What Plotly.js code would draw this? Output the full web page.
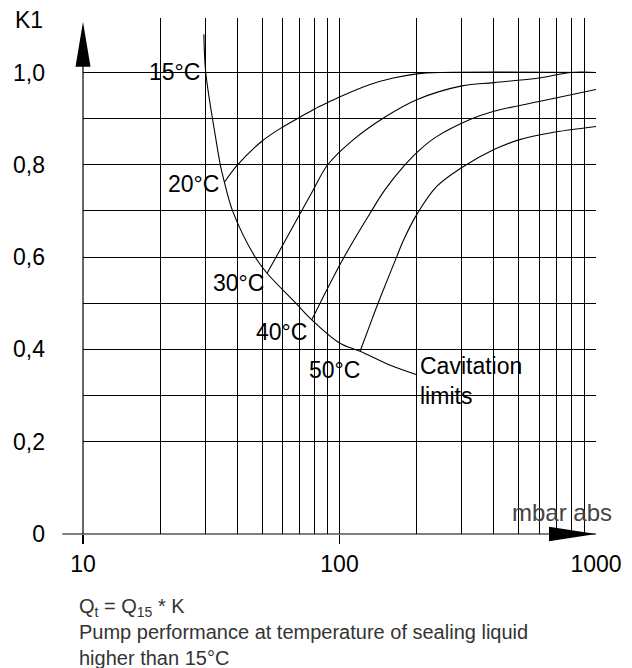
<!DOCTYPE html>
<html><head><meta charset="utf-8">
<script src="https://cdn.plot.ly/plotly-3.0.1.min.js"></script>
<style>html,body{margin:0;padding:0;background:#fff}#chart{width:632px;height:668px}</style>
</head><body><div id="chart"></div>
<script>
// ---- data ----
const xTickVals = [10,20,30,40,50,60,70,80,90,100,200,300,400,500,600,700,800,900,1000];
const xTickText = ['10','','','','','','','','','100','','','','','','','','','1000'];
const yTickVals = [0,0.2,0.4,0.6,0.8,1.0];
const yTickText = ['0','0,2','0,4','0,6','0,8','1,0'];
const yMinorGrid = [0.3,0.5,0.7,0.9];

const cavX = [29.6, 30.1, 33.0, 34.3, 35.6, 38.3, 46.9, 52.2, 67.6, 78.0, 100, 120.3, 157, 200];
const cavY = [1.083, 1.0, 0.854, 0.80, 0.762, 0.70, 0.60, 0.565, 0.50, 0.464, 0.414, 0.396, 0.366, 0.345];

const t20X = [35.6, 39.8, 49.8, 60.5, 70, 80, 90, 100, 131.6, 162, 200, 247, 1000];
const t20Y = [0.762, 0.798, 0.851, 0.883, 0.903, 0.921, 0.935, 0.947, 0.974, 0.988, 0.997, 1.0, 1.0];

const t30X = [52.2, 56.6, 71.3, 79.1, 90, 113, 150, 200, 300, 400, 600, 800, 1000];
const t30Y = [0.565, 0.600, 0.701, 0.746, 0.800, 0.854, 0.903, 0.941, 0.971, 0.978, 0.988, 1.0, 1.0];

const t40X = [78.0, 84.0, 104.2, 131.6, 150.5, 177.4, 206, 239.3, 322.8, 400, 600, 1000];
const t40Y = [0.464, 0.500, 0.600, 0.695, 0.746, 0.796, 0.833, 0.861, 0.898, 0.916, 0.937, 0.963];

const t50X = [120.3, 133.6, 143, 167.2, 177.4, 200, 239.3, 300, 400, 500, 661, 1000];
const t50Y = [0.396, 0.464, 0.507, 0.601, 0.636, 0.692, 0.753, 0.794, 0.833, 0.854, 0.869, 0.883];

const tempLabels = ['15°C','20°C','30°C','40°C','50°C'];
const tempLabelX = [29.2, 34.5, 51.8, 76.3, 122.2];
const tempLabelY = [1.0, 0.759, 0.544, 0.438, 0.356];

// ---- chart ----
const FONT = 'Liberation Sans, Arial, Helvetica, sans-serif';
const lineStyle = {color:'#000', width:1.1, shape:'spline', smoothing:1};
const mk = (x,y,name) => ({x, y, name, type:'scatter', mode:'lines', line:lineStyle, hoverinfo:'skip'});
const traces = [mk(cavX,cavY,'Cavitation limits'), mk(t20X,t20Y,'20°C'), mk(t30X,t30Y,'30°C'), mk(t40X,t40Y,'40°C'), mk(t50X,t50Y,'50°C')];

const annotations = tempLabels.map((t,i)=>({
  text:t, xref:'x', yref:'y', x:Math.log10(tempLabelX[i]), y:tempLabelY[i],
  xanchor:'right', yanchor:'middle', showarrow:false, font:{family:FONT,size:23,color:'#000'}
}));
annotations.push({text:'Cavitation<br>limits', xref:'x', yref:'y', x:Math.log10(203), y:0.332,
  xanchor:'left', yanchor:'middle', align:'left', showarrow:false, font:{family:FONT,size:23,color:'#000'}});
annotations.push({text:'K1', xref:'paper', yref:'paper', x:-0.105, y:0.996, xanchor:'center', yanchor:'middle',
  showarrow:false, font:{family:FONT,size:23,color:'#000'}});
annotations.push({text:'mbar abs', xref:'paper', yref:'paper', x:0.934, y:0.0426, xanchor:'center', yanchor:'middle',
  showarrow:false, font:{family:FONT,size:24,color:'#444'}});
annotations.push({text:'Q<sub>t</sub> = Q<sub>15</sub> * K<br>Pump performance at temperature of sealing liquid<br>higher than 15°C',
  xref:'paper', yref:'paper', x:-0.0123, y:-0.19, xanchor:'left', yanchor:'middle', align:'left',
  showarrow:false, font:{family:FONT,size:20,color:'#333'}});

const shapes = [
  {type:'line', xref:'paper', yref:'y', x0:0, x1:0, y0:0, y1:1.06, line:{color:'#000', width:1.2}},
  {type:'line', xref:'paper', yref:'paper', x0:-0.0403, x1:1, y0:0, y1:0, line:{color:'#000', width:1.2}},
  {type:'path', xref:'paper', xsizemode:'pixel', xanchor:0, yref:'paper', ysizemode:'pixel', yanchor:0,
   path:'M -7.5 467.3 L 7.5 467.3 L 0 512.3 Z', fillcolor:'#000', line:{width:0}},
  {type:'path', xref:'paper', xsizemode:'pixel', xanchor:1, yref:'paper', ysizemode:'pixel', yanchor:0,
   path:'M 0 0 L -47 7.3 L -47 -7.3 Z', fillcolor:'#000', line:{width:0}}
];

const layout = {
  width:632, height:668,
  margin:{l:83, r:36, t:18, b:134},
  paper_bgcolor:'#fff', plot_bgcolor:'#fff',
  showlegend:false,
  font:{family:FONT, size:23, color:'#000'},
  xaxis:{type:'log', range:[1,3], tickmode:'array', tickvals:xTickVals, ticktext:xTickText,
    showgrid:true, gridcolor:'#000', gridwidth:1, ticks:'', showline:false, zeroline:false,
    tickfont:{family:FONT,size:23,color:'#000'}, ticklabelstandoff:14,
    minor:{tickmode:'array', tickvals:[10,100], ticks:'outside', ticklen:9, tickwidth:1.2, tickcolor:'#000', showgrid:false},
    fixedrange:true},
  yaxis:{range:[0,1.118], tickmode:'array', tickvals:yTickVals, ticktext:yTickText,
    showgrid:true, gridcolor:'#000', gridwidth:1, ticks:'', showline:false, zeroline:false,
    tickfont:{family:FONT,size:23,color:'#000'}, ticklabelstandoff:37,
    minor:{tickmode:'array', tickvals:yMinorGrid, showgrid:true, gridcolor:'#000', gridwidth:1, ticks:''},
    fixedrange:true},
  annotations, shapes
};
Plotly.newPlot('chart', traces, layout, {staticPlot:true, displayModeBar:false});
</script></body></html>
